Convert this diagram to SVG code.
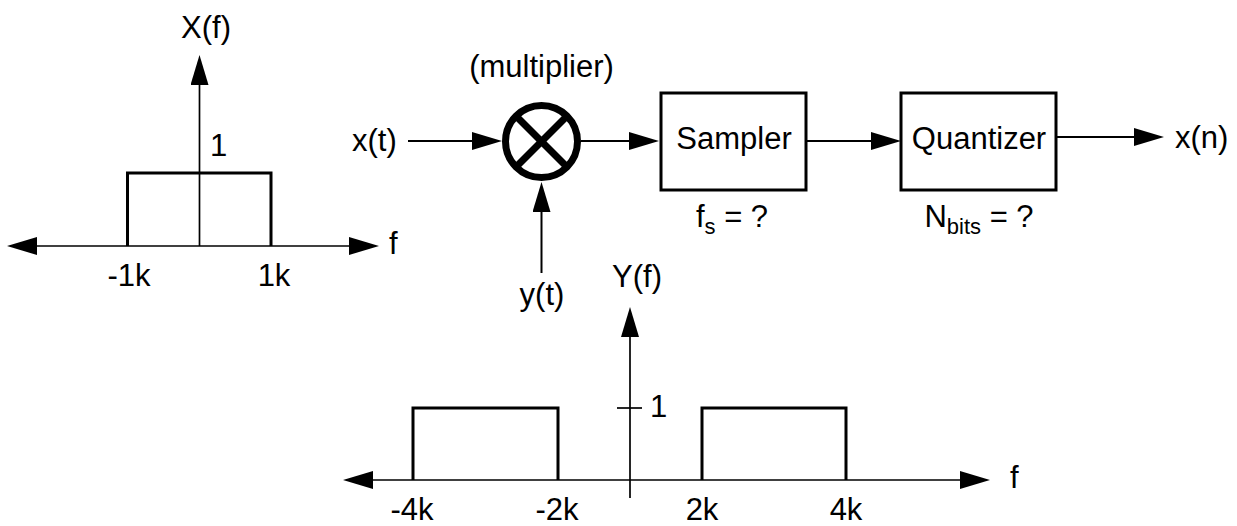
<svg xmlns="http://www.w3.org/2000/svg" width="1237" height="526" viewBox="0 0 1237 526">
  <style>
    text { font-family: "Liberation Sans", Arial, Helvetica, sans-serif; font-size: 31px; fill: #000; }
    .mid { text-anchor: middle; }
    .sub { font-size: 22px; }
    .axis { stroke: #000; stroke-width: 1.7; fill: none; }
    .spec { stroke: #000; stroke-width: 3; fill: none; }
    .wire { stroke: #000; stroke-width: 2; fill: none; }
    .box { stroke: #000; stroke-width: 3; fill: #fff; }
  </style>
  <defs>
    <marker id="arr" markerUnits="userSpaceOnUse" markerWidth="30" markerHeight="18" refX="20" refY="9" orient="auto-start-reverse">
      <path d="M0,0 L30,9 L0,18 Z" fill="#000"/>
    </marker>
  </defs>

  <g id="spectrum-x">
    <line class="axis" x1="199.5" y1="246" x2="199.5" y2="65" marker-end="url(#arr)"/>
    <line class="axis" x1="17" y1="246" x2="369" y2="246" marker-start="url(#arr)" marker-end="url(#arr)"/>
    <path class="spec" d="M127.5,246 V173 H271 V246"/>
    <text class="mid" x="206" y="38">X(f)</text>
    <text x="210" y="156">1</text>
    <text class="mid" x="129" y="286">-1k</text>
    <text class="mid" x="274" y="286">1k</text>
    <text x="389" y="254">f</text>
  </g>

  <g id="spectrum-y">
    <line class="axis" x1="630" y1="498" x2="630" y2="317" marker-end="url(#arr)"/>
    <line class="axis" x1="353" y1="480" x2="980" y2="480" marker-start="url(#arr)" marker-end="url(#arr)"/>
    <line class="axis" x1="617" y1="408" x2="642" y2="408"/>
    <path class="spec" d="M413,480 V408 H558 V480"/>
    <path class="spec" d="M702,480 V408 H846 V480"/>
    <text class="mid" x="637" y="287">Y(f)</text>
    <text x="650" y="417">1</text>
    <text class="mid" x="412" y="520">-4k</text>
    <text class="mid" x="557" y="520">-2k</text>
    <text class="mid" x="702" y="520">2k</text>
    <text class="mid" x="846" y="520">4k</text>
    <text x="1010" y="488">f</text>
  </g>

  <g id="connectors">
    <line class="wire" x1="408" y1="141" x2="492" y2="141" marker-end="url(#arr)"/>
    <line class="wire" x1="541.5" y1="273" x2="541.5" y2="192" marker-end="url(#arr)"/>
    <line class="wire" x1="581" y1="141" x2="649" y2="141" marker-end="url(#arr)"/>
    <line class="wire" x1="806" y1="141" x2="891" y2="141" marker-end="url(#arr)"/>
    <line class="wire" x1="1056" y1="137" x2="1154" y2="137" marker-end="url(#arr)"/>
  </g>

  <g id="input-x">
    <text x="352" y="151">x(t)</text>
  </g>

  <g id="input-y">
    <text class="mid" x="542" y="305">y(t)</text>
  </g>

  <g id="multiplier">
    <circle cx="541.5" cy="141.5" r="36" fill="#fff" stroke="#000" stroke-width="7"/>
    <line x1="516" y1="116" x2="567" y2="167" stroke="#000" stroke-width="7"/>
    <line x1="567" y1="116" x2="516" y2="167" stroke="#000" stroke-width="7"/>
    <text class="mid" x="541.5" y="77">(multiplier)</text>
  </g>

  <g id="sampler">
    <rect class="box" x="661" y="93" width="145" height="97"/>
    <text class="mid" x="734" y="149">Sampler</text>
    <text class="mid" x="732" y="227">f<tspan class="sub" dy="7">s</tspan><tspan dy="-7"> = ?</tspan></text>
  </g>

  <g id="quantizer">
    <rect class="box" x="901" y="93" width="155" height="97"/>
    <text class="mid" x="979" y="149">Quantizer</text>
    <text class="mid" x="979" y="227">N<tspan class="sub" dy="7">bits</tspan><tspan dy="-7"> = ?</tspan></text>
  </g>

  <g id="output">
    <text x="1175" y="148">x(n)</text>
  </g>
</svg>
